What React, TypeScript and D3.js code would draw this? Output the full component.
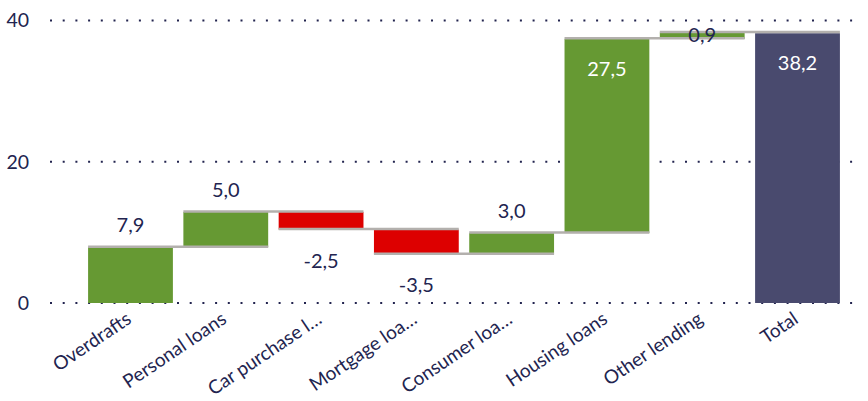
import React from "react";
import * as d3 from "d3";

const categories = ["Overdrafts", "Personal loans", "Car purchase l…", "Mortgage loa…", "Consumer loa…", "Housing loans", "Other lending", "Total"];
const deltas = [7.9, 5.0, -2.5, -3.5, 3.0, 27.5, 0.9];
const totalValue = 38.2;
const yTicks = [0, 20, 40];

const W = 868;
const H = 401;
const NAVY = "#22244f";
const GREEN = "#669933";
const RED = "#dd0000";
const TOTAL = "#494a6e";
const GREY = "#b3b0ad";
const FONT = "Lato, 'Open Sans', sans-serif";

const fmt = (v: number) => d3.format(".1f")(v).replace("−", "-").replace(".", ",");

export default function App() {
  const y = d3.scaleLinear().domain([0, 40]).range([303, 20.5]);
  const x = d3.scaleBand<string>().domain(categories).range([82.85, 845.15]).paddingInner(0.11).paddingOuter(0.055);
  const bw = x.bandwidth();

  let cum = 0;
  const bars = deltas.map((d, i) => {
    const start = cum;
    cum += d;
    return { cat: categories[i], start, end: cum, value: d, total: false };
  });
  bars.push({ cat: categories[7], start: 0, end: totalValue, value: totalValue, total: true });

  return (
    <svg width={W} height={H} style={{ display: "block", position: "absolute", left: 0, top: 0 }} fontFamily={FONT}>
      {yTicks.map((t) => (
        <g key={t}>
          <line x1={50} x2={862} y1={y(t)} y2={y(t)} stroke={NAVY} strokeWidth={2} strokeDasharray="2 10.7" />
          <text x={29} y={y(t)} dy="0.35em" textAnchor="end" fontSize={19.5} fill={NAVY}>{t}</text>
        </g>
      ))}
      {bars.map((b) => {
        const x0 = x(b.cat)!;
        const top = Math.max(b.start, b.end);
        const bot = Math.min(b.start, b.end);
        const fill = b.total ? TOTAL : b.value >= 0 ? GREEN : RED;
        return <rect key={b.cat} x={x0} width={bw} y={y(top)} height={y(bot) - y(top)} fill={fill} />;
      })}
      {bars.slice(0, 7).map((b, i) => {
        const x0 = x(b.cat)!;
        const x1 = x(categories[i + 1])! + bw;
        return <line key={"c" + i} x1={x0} x2={x1} y1={y(b.end) - 0.5} y2={y(b.end) - 0.5} stroke={GREY} strokeWidth={2.5} />;
      })}
      {bars.map((b, i) => {
        const cx = x(b.cat)! + bw / 2;
        let ty: number;
        let col = NAVY;
        if (b.total || b.value > 20) {
          ty = y(b.end) + 30;
          col = "#ffffff";
        } else if (b.value < 0) {
          ty = y(b.end) + 31;
        } else if (b.value < 2) {
          ty = y(b.end) + 2;
        } else {
          ty = y(b.end) - 22;
        }
        return (
          <text key={"l" + i} x={cx} y={ty} dy="0.35em" textAnchor="middle" fontSize={20} fill={col}>{fmt(b.value)}</text>
        );
      })}
      {categories.map((c) => {
        const cx = x(c)! + bw / 2;
        return (
          <text key={"x" + c} transform={`translate(${cx + 2},${322}) rotate(-34)`} textAnchor="end" fontSize={19} fill={NAVY}>{c}</text>
        );
      })}
    </svg>
  );
}
